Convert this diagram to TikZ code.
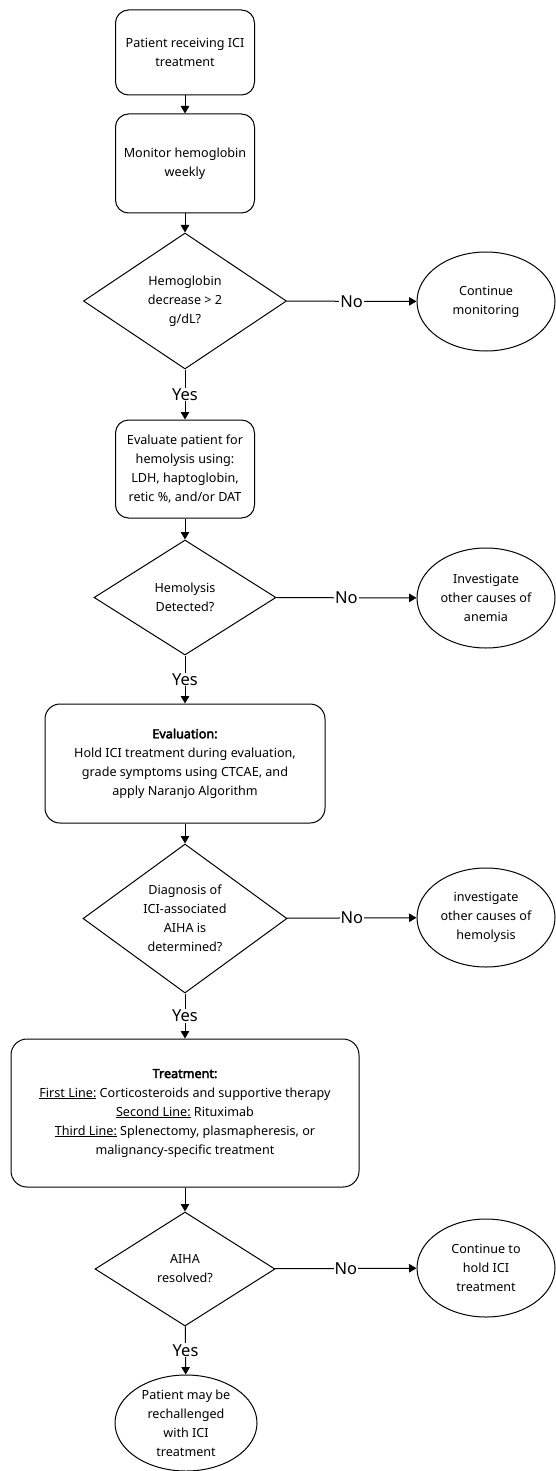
\documentclass[tikz,border=0pt]{standalone}
\usepackage{fontspec}
\setmainfont{Noto Sans}[AutoFakeBold=3]
\usetikzlibrary{shapes.geometric,arrows.meta}
\begin{document}
\begin{tikzpicture}[x=1pt,y=-1pt,
	every node/.style={font=\fontsize{12.6}{19}\selectfont,align=center},
	stepbox/.style={draw,line width=1pt,rounded corners=13pt,inner sep=0pt},
	decision/.style={draw,line width=1pt,shape=diamond,inner sep=-25pt},
	endpoint/.style={draw,line width=1pt,shape=ellipse,inner sep=0pt,minimum width=138pt,minimum height=99pt},
	arr/.style={line width=1pt,-{Triangle[length=7.5pt,width=8.5pt]}},
	lbl/.style={fill=white,inner sep=1pt,font=\fontsize{16.5}{18}\selectfont}]
			\useasboundingbox (0,0) rectangle (555,1471);
			
			\node[stepbox,minimum width=139pt,minimum height=85pt] (start) at (185,52.5) {Patient receiving ICI\\treatment};
			\node[stepbox,minimum width=139pt,minimum height=99pt] (monitor) at (185,163.5) {Monitor hemoglobin\\weekly};
			\node[decision,minimum width=203pt,minimum height=136pt] (hbdrop) at (185,301) {Hemoglobin\\decrease > 2\\g/dL?};
			\node[endpoint] (contmon) at (486,301.5) {Continue\\monitoring};
			
			\node[stepbox,minimum width=139pt,minimum height=98pt] (evalhem) at (185,469) {Evaluate patient for\\hemolysis using:\\LDH, haptoglobin,\\retic \%, and/or DAT};
			\node[decision,minimum width=182pt,minimum height=115pt] (hemdet) at (185,597.5) {Hemolysis\\Detected?};
			\node[endpoint,minimum height=100pt] (anemia) at (486,598) {Investigate\\other causes of\\anemia};
			
			\node[stepbox,minimum width=280pt,minimum height=119pt,rounded corners=15pt] (evaluation) at (185,763.5) {\textbf{Evaluation:}\\Hold ICI treatment during evaluation,\\grade symptoms using CTCAE, and\\apply Naranjo Algorithm};
			\node[decision,minimum width=204pt,minimum height=149pt] (diagnosis) at (185,918.5) {Diagnosis of\\ICI-associated\\AIHA is\\determined?};
			\node[endpoint] (hemolysis) at (486,917.5) {investigate\\other causes of\\hemolysis};
			
			\node[stepbox,minimum width=348pt,minimum height=148pt,rounded corners=16pt] (treatment) at (185,1113) {\textbf{Treatment:}\\\underline{First Line:} Corticosteroids and supportive therapy\\\underline{Second Line:} Rituximab\\\underline{Third Line:} Splenectomy, plasmapheresis, or\\malignancy-specific treatment};
			\node[decision,minimum width=180pt,minimum height=114pt] (resolved) at (185,1269) {AIHA\\resolved?};
			\node[endpoint,minimum height=98pt] (holdici) at (486,1268) {Continue to\\hold ICI\\treatment};
			\node[endpoint,minimum width=142pt,minimum height=96pt] (rechallenge) at (186,1423) {Patient may be\\rechallenged\\with ICI\\treatment};
			
			\draw[arr] (start) -- (monitor);
			\draw[arr] (monitor) -- (hbdrop);
			\draw[arr] (hbdrop) -- node[lbl]{No} (contmon);
			\draw[arr] (hbdrop) -- node[lbl]{Yes} (evalhem);
			
			\draw[arr] (evalhem) -- (hemdet);
			\draw[arr] (hemdet) -- node[lbl]{No} (anemia);
			\draw[arr] (hemdet) -- node[lbl]{Yes} (evaluation);
			
			\draw[arr] (evaluation) -- (diagnosis);
			\draw[arr] (diagnosis) -- node[lbl]{No} (hemolysis);
			\draw[arr] (diagnosis) -- node[lbl]{Yes} (treatment);
			
			\draw[arr] (treatment) -- (resolved);
			\draw[arr] (resolved) -- node[lbl]{No} (holdici);
			\draw[arr] (resolved) -- node[lbl]{Yes} (rechallenge);
	
		\end{tikzpicture}
\end{document}
